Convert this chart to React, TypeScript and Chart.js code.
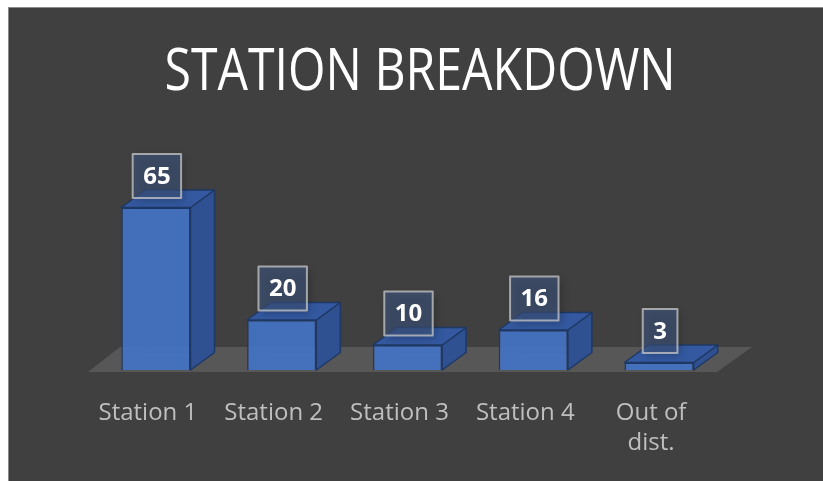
import React, { useEffect, useRef } from 'react';
import { Chart, registerables } from 'chart.js';

Chart.register(...registerables);

const chartTitle = 'STATION BREAKDOWN';
const categories: (string | string[])[] = ['Station 1', 'Station 2', 'Station 3', 'Station 4', ['Out of', 'dist.']];
const stationCounts = [65, 20, 10, 16, 3];
const axisMin = 0;
const axisMax = 100;

const DX = 24;
const DY = -17.5;

const threeDPlugin = {
  id: 'threeD',
  beforeDatasetsDraw(chart: any) {
    const { ctx, chartArea } = chart;
    const y0 = chart.scales.y.getPixelForValue(0);
    ctx.save();
    ctx.fillStyle = '#575757';
    ctx.beginPath();
    ctx.moveTo(chartArea.left - 5, y0 + 2);
    ctx.lineTo(chartArea.right - 5, y0 + 2);
    ctx.lineTo(chartArea.right + 30, y0 - 23);
    ctx.lineTo(chartArea.left + 27, y0 - 23);
    ctx.closePath();
    ctx.fill();
    const meta = chart.getDatasetMeta(0);
    ctx.strokeStyle = 'rgba(25,45,90,0.55)';
    ctx.lineWidth = 1;
    meta.data.forEach((bar: any) => {
      const { x, y, base, width } = bar.getProps(['x', 'y', 'base', 'width'], true);
      const l = x - width / 2;
      const r = x + width / 2;
      ctx.beginPath();
      ctx.moveTo(l, base);
      ctx.lineTo(l + DX, base + DY);
      ctx.lineTo(r + DX, base + DY);
      ctx.moveTo(l + DX, base + DY);
      ctx.lineTo(l + DX, y + DY);
      ctx.stroke();
    });
    ctx.restore();
  },
  afterDatasetsDraw(chart: any) {
    const { ctx } = chart;
    const meta = chart.getDatasetMeta(0);
    const values = chart.data.datasets[0].data;
    ctx.save();
    ctx.lineJoin = 'round';
    meta.data.forEach((bar: any) => {
      const { x, y, base, width } = bar.getProps(['x', 'y', 'base', 'width'], true);
      const l = x - width / 2;
      const r = x + width / 2;
      // side face
      ctx.beginPath();
      ctx.moveTo(r, y);
      ctx.lineTo(r + DX, y + DY);
      ctx.lineTo(r + DX, base + DY);
      ctx.lineTo(r, base);
      ctx.closePath();
      ctx.fillStyle = '#2f5192';
      ctx.fill();
      ctx.strokeStyle = '#1f3864';
      ctx.lineWidth = 1.5;
      ctx.stroke();
      // top face
      ctx.beginPath();
      ctx.moveTo(l, y);
      ctx.lineTo(l + DX, y + DY);
      ctx.lineTo(r + DX, y + DY);
      ctx.lineTo(r, y);
      ctx.closePath();
      ctx.fillStyle = '#3459a0';
      ctx.fill();
      ctx.stroke();
    });
    // data labels
    meta.data.forEach((bar: any, i: number) => {
      const { x, y } = bar.getProps(['x', 'y'], true);
      const text = String(values[i]);
      ctx.font = 'bold 24px "Open Sans", sans-serif';
      const tw = ctx.measureText(text).width;
      const w = tw + 21;
      const h = 44;
      const cx = x + 1;
      const top = y - 9.5 - h;
      ctx.save();
      ctx.shadowColor = 'rgba(0,0,0,0.35)';
      ctx.shadowBlur = 8;
      ctx.shadowOffsetX = 3;
      ctx.shadowOffsetY = 3;
      ctx.fillStyle = 'rgba(62,84,124,0.62)';
      ctx.fillRect(cx - w / 2, top, w, h);
      ctx.restore();
      ctx.strokeStyle = 'rgba(200,200,200,0.75)';
      ctx.lineWidth = 2;
      ctx.strokeRect(cx - w / 2, top, w, h);
      ctx.fillStyle = '#ffffff';
      ctx.textAlign = 'center';
      ctx.textBaseline = 'middle';
      ctx.fillText(text, cx, top + h / 2 + 1);
    });
    ctx.restore();
  },
};

const titlePlugin = {
  id: 'fitTitle',
  afterDraw(chart: any) {
    const { ctx } = chart;
    ctx.save();
    ctx.font = '400 59px "Open Sans", sans-serif';
    ctx.fillStyle = '#ffffff';
    ctx.textAlign = 'center';
    ctx.textBaseline = 'alphabetic';
    const w = ctx.measureText(chartTitle).width;
    const sx = 511 / w;
    ctx.translate(420, 90);
    ctx.scale(sx, 1);
    ctx.fillText(chartTitle, 0, 0);
    ctx.restore();
  },
};

export default function App() {
  const ref = useRef<HTMLCanvasElement | null>(null);
  useEffect(() => {
    if (!ref.current) return;
    const chart = new Chart(ref.current, {
      type: 'bar',
      data: {
        labels: categories,
        datasets: [
          {
            data: stationCounts,
            backgroundColor: 'rgba(68,114,196,0.93)',
            borderColor: '#1f3864',
            borderWidth: 1.5,
            categoryPercentage: 1,
            barPercentage: 0.55,
          },
        ],
      },
      options: {
        responsive: false,
        animation: false,
        devicePixelRatio: 1,
        layout: { padding: { left: 93, right: 101, top: 120, bottom: 0 } },
        plugins: {
          legend: { display: false },
          title: { display: false },
          tooltip: { enabled: false },
        },
        scales: {
          x: {
            grid: { display: false },
            border: { display: false },
            ticks: {
              color: '#bfbfbf',
              font: { family: '"Open Sans", sans-serif', size: 24, lineHeight: 1.25 },
              padding: 20,
              labelOffset: -8,
              maxRotation: 0,
              autoSkip: false,
            },
            afterFit: (s: any) => {
              s.height = 111;
            },
          },
          y: { display: false, min: axisMin, max: axisMax },
        },
      },
      plugins: [threeDPlugin, titlePlugin],
    } as any);
    return () => chart.destroy();
  }, []);
  return (
    <div style={{ position: 'absolute', left: 0, top: 0, width: 823, height: 481, background: '#ffffff', overflow: 'hidden' }}>
      <div
        style={{
          position: 'absolute',
          left: 8,
          top: 7,
          right: 0,
          bottom: 0,
          background: '#404040',
          borderLeft: '1px solid #8a8a8a',
          borderTop: '1px solid #8a8a8a',
        }}
      />
      <canvas ref={ref} width={823} height={481} style={{ position: 'absolute', left: 0, top: 0, width: 823, height: 481 }} />
    </div>
  );
}
